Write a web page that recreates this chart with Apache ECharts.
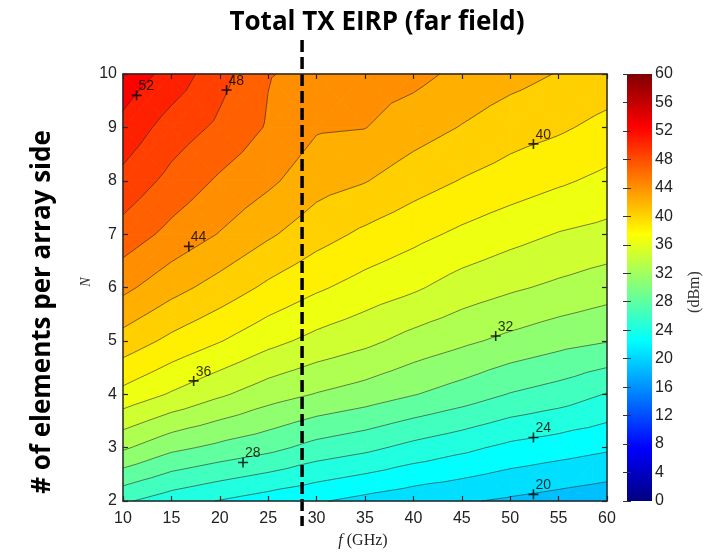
<!DOCTYPE html>
<html>
<head>
<meta charset="utf-8">
<script src="https://cdn.jsdelivr.net/npm/echarts@6/dist/echarts.min.js"></script>
<style>
html,body{margin:0;padding:0;background:#fff;}
#chart{width:708px;height:552px;}
</style>
</head>
<body>
<div id="chart"></div>
<script>
// ---- data ----
const freqGHz = [10, 15, 20, 25, 30, 35, 40, 45, 50, 55, 60];
const elemsN = [2, 3, 4, 5, 6, 7, 8, 9, 10];
// EIRP (dBm), one row per N (2..10), one column per frequency
const eirpN2  = [26.3, 24.9, 23.9, 23.0, 22.2, 21.4, 20.7, 20.2, 19.7, 19.2, 18.7];
const eirpN3  = [32.3, 30.5, 29.5, 28.6, 27.3, 26.5, 25.4, 24.5, 23.5, 22.9, 22.3];
const eirpN4  = [37.4, 35.8, 34.3, 32.9, 31.9, 31.1, 30.1, 29.1, 27.9, 27.1, 25.9];
const eirpN5  = [41.2, 39.5, 38.1, 36.6, 35.4, 34.5, 33.3, 32.4, 31.5, 30.7, 30.1];
const eirpN6  = [44.5, 42.7, 41.2, 39.6, 38.3, 37.2, 36.3, 35.1, 34.3, 33.6, 32.9];
const eirpN7  = [47.2, 45.4, 43.9, 42.3, 40.8, 39.6, 38.6, 37.6, 36.7, 35.9, 35.4];
const eirpN8  = [49.4, 47.4, 45.7, 44.4, 42.8, 42.1, 40.9, 39.9, 39.1, 38.3, 37.5];
const eirpN9  = [51.4, 49.1, 47.6, 45.8, 44.2, 44.05, 42.9, 41.9, 40.9, 40.3, 39.4];
const eirpN10 = [53.3, 51.3, 48.7, 46.1, 45.5, 44.9, 44.6, 43.5, 42.7, 41.9, 41.2];
const eirpRows = [eirpN2, eirpN3, eirpN4, eirpN5, eirpN6, eirpN7, eirpN8, eirpN9, eirpN10];

const levelStep = 2;            // contour spacing (dBm)
const colorRange = [0, 60];     // colour axis (dBm)
const colorTicks = 4;
const labelF = [11.4, 20.7, 16.8, 52.4, 17.3, 48.5, 22.4, 52.4, 52.4];
const labelN = [9.6, 9.7, 6.77, 8.69, 4.25, 5.09, 2.72, 3.19, 2.125];
const labelText = ['52', '48', '44', '40', '36', '32', '28', '24', '20'];
const dashF = 28.5;             // vertical dashed marker (GHz)

// ---- helpers ----
function jet(t) {
  const c = x => Math.max(0, Math.min(1, x));
  const r = c(1.5 - Math.abs(4 * t - 3)), g = c(1.5 - Math.abs(4 * t - 2)), b = c(1.5 - Math.abs(4 * t - 1));
  return 'rgb(' + Math.round(r * 255) + ',' + Math.round(g * 255) + ',' + Math.round(b * 255) + ')';
}
// MATLAB-style 64-entry jet colormap (discrete), used for the filled bands
function jet64(t) {
  let e = Math.floor(t * 64) + 1;
  e = Math.max(1, Math.min(64, e));
  const u = k => (k < 1 || k > 47) ? 0 : (k <= 16 ? k / 16 : (k <= 31 ? 1 : (48 - k) / 16));
  const r = u(e - 24), g = u(e - 8), b = u(e + 8);
  return 'rgb(' + Math.round(r * 255) + ',' + Math.round(g * 255) + ',' + Math.round(b * 255) + ')';
}
const jetStops = [0, 0.125, 0.25, 0.375, 0.5, 0.625, 0.75, 0.875, 1].map(t => ({offset: t, color: jet(t)}));

function clipPoly(poly, lvl, keepAbove) {
  const out = [];
  const n = poly.length;
  for (let i = 0; i < n; i++) {
    const a = poly[i], b = poly[(i + 1) % n];
    const ain = keepAbove ? a[2] >= lvl : a[2] < lvl;
    const bin = keepAbove ? b[2] >= lvl : b[2] < lvl;
    if (ain) out.push(a);
    if (ain !== bin) {
      const t = (lvl - a[2]) / (b[2] - a[2]);
      out.push([a[0] + t * (b[0] - a[0]), a[1] + t * (b[1] - a[1]), lvl]);
    }
  }
  return out;
}

function renderField(params, api) {
  const fills = [];
  let path = '';
  for (let j = 0; j < elemsN.length - 1; j++) {
    for (let i = 0; i < freqGHz.length - 1; i++) {
      const A = [freqGHz[i], elemsN[j], eirpRows[j][i]];
      const B = [freqGHz[i + 1], elemsN[j], eirpRows[j][i + 1]];
      const C = [freqGHz[i + 1], elemsN[j + 1], eirpRows[j + 1][i + 1]];
      const D = [freqGHz[i], elemsN[j + 1], eirpRows[j + 1][i]];
      const E = [(A[0] + B[0]) / 2, (A[1] + D[1]) / 2, (A[2] + B[2] + C[2] + D[2]) / 4];
      const tris = [[A, B, E], [B, C, E], [C, D, E], [D, A, E]];
      for (const tri of tris) {
        const vs = tri.map(p => p[2]);
        const mn = Math.min.apply(null, vs), mx = Math.max.apply(null, vs);
        for (let L = Math.floor(mn / levelStep) * levelStep; L <= mx; L += levelStep) {
          let poly = clipPoly(tri, L, true);
          if (poly.length < 3) continue;
          poly = clipPoly(poly, L + levelStep, false);
          if (poly.length < 3) continue;
          const col = jet64((L - colorRange[0]) / (colorRange[1] - colorRange[0]));
          fills.push({
            type: 'polygon',
            shape: {points: poly.map(p => api.coord([p[0], p[1]]))},
            style: {fill: col, stroke: col, lineWidth: 0.8}
          });
        }
        for (let L = Math.ceil(mn / levelStep) * levelStep; L <= mx; L += levelStep) {
          const pts = [];
          for (let k = 0; k < 3; k++) {
            const a = tri[k], b = tri[(k + 1) % 3];
            if ((a[2] >= L) !== (b[2] >= L)) {
              const t = (L - a[2]) / (b[2] - a[2]);
              pts.push(api.coord([a[0] + t * (b[0] - a[0]), a[1] + t * (b[1] - a[1])]));
            }
          }
          if (pts.length === 2) {
            path += 'M' + pts[0][0].toFixed(2) + ' ' + pts[0][1].toFixed(2) + 'L' + pts[1][0].toFixed(2) + ' ' + pts[1][1].toFixed(2);
          }
        }
      }
    }
  }
  fills.push({
    type: 'path',
    shape: {pathData: path},
    style: {fill: null, stroke: 'rgba(40,40,40,0.75)', lineWidth: 0.8}
  });
  return {type: 'group', children: fills};
}

function renderDash(params, api) {
  const top = api.coord([api.value(0), elemsN[elemsN.length - 1]]);
  const bot = api.coord([api.value(0), elemsN[0]]);
  return {
    type: 'line',
    shape: {x1: top[0], y1: top[1] - 34, x2: bot[0], y2: bot[1] + 25},
    style: {stroke: '#000', lineWidth: 3.5, lineDash: [12, 5]},
    z2: 10
  };
}

function renderColorbar(params, api) {
  const p0 = api.coord([0, api.value(0)]);
  const p1 = api.coord([1, api.value(1)]);
  return {
    type: 'rect',
    shape: {x: p0[0], y: p1[1], width: p1[0] - p0[0], height: p0[1] - p1[1]},
    style: {fill: new echarts.graphic.LinearGradient(0, 1, 0, 0, jetStops)}
  };
}

const axisCol = '#262626';
const tickFont = {color: '#222', fontSize: 16, fontFamily: 'Liberation Sans, Arial, sans-serif'};

const chart = echarts.init(document.getElementById('chart'), null, {renderer: 'canvas'});
chart.setOption({
  animation: false,
  backgroundColor: '#fff',
  grid: [
    {left: 123, top: 74, width: 484, height: 427},
    {left: 627, top: 74, width: 25, height: 427}
  ],
  xAxis: [
    {gridIndex: 0, type: 'value', min: 10, max: 60, interval: 5, position: 'bottom', z: 5,
     axisLine: {onZero: false, lineStyle: {color: axisCol, width: 1.5}},
     axisTick: {inside: true, length: 5, lineStyle: {color: axisCol, width: 1.2}},
     axisLabel: Object.assign({margin: 10}, tickFont), splitLine: {show: false}},
    {gridIndex: 0, type: 'value', min: 10, max: 60, interval: 5, position: 'top', z: 5,
     axisLine: {onZero: false, lineStyle: {color: axisCol, width: 1.5}},
     axisTick: {inside: true, length: 5, lineStyle: {color: axisCol, width: 1.2}},
     axisLabel: {show: false}, splitLine: {show: false}},
    {gridIndex: 1, type: 'value', min: 0, max: 1, show: false}
  ],
  yAxis: [
    {gridIndex: 0, type: 'value', min: 2, max: 10, interval: 1, position: 'left', z: 5,
     axisLine: {show: true, onZero: false, lineStyle: {color: axisCol, width: 1.5}},
     axisTick: {show: true, inside: true, length: 5, lineStyle: {color: axisCol, width: 1.2}},
     axisLabel: Object.assign({margin: 6}, tickFont), splitLine: {show: false}},
    {gridIndex: 0, type: 'value', min: 2, max: 10, interval: 1, position: 'right', z: 5,
     axisLine: {show: true, onZero: false, lineStyle: {color: axisCol, width: 1.5}},
     axisTick: {show: true, inside: true, length: 5, lineStyle: {color: axisCol, width: 1.2}},
     axisLabel: {show: false}, splitLine: {show: false}},
    {gridIndex: 1, type: 'value', min: colorRange[0], max: colorRange[1], interval: colorTicks, position: 'right', z: 5,
     axisLine: {show: false},
     axisTick: {show: true, inside: true, length: 4, lineStyle: {color: '#333', width: 1}},
     axisLabel: Object.assign({margin: 3}, tickFont), splitLine: {show: false}},
    {gridIndex: 1, type: 'value', min: colorRange[0], max: colorRange[1], interval: colorTicks, position: 'left', z: 5,
     axisLine: {show: false},
     axisTick: {show: true, inside: true, length: 4, lineStyle: {color: '#333', width: 1}},
     axisLabel: {show: false}, splitLine: {show: false}}
  ],
  series: [
    {type: 'custom', xAxisIndex: 0, yAxisIndex: 0, coordinateSystem: 'cartesian2d',
     renderItem: renderField, data: [[freqGHz[0], elemsN[0]]], silent: true, z: 1},
    {type: 'custom', xAxisIndex: 0, yAxisIndex: 0, coordinateSystem: 'cartesian2d',
     renderItem: renderDash, data: [[dashF, elemsN[0]]], silent: true, z: 4, clip: false},
    {type: 'scatter', xAxisIndex: 0, yAxisIndex: 0, z: 3, silent: true,
     symbol: 'path://M4.2,0H5.8V4.2H10V5.8H5.8V10H4.2V5.8H0V4.2H4.2Z', symbolSize: 10,
     itemStyle: {color: '#000'},
     label: {show: true, position: [7, -11], color: '#000', fontSize: 14,
             fontFamily: 'Liberation Sans, Arial, sans-serif', formatter: p => p.value[2]},
     data: labelF.map((f, i) => [f, labelN[i], labelText[i]])},
    {type: 'custom', xAxisIndex: 2, yAxisIndex: 2, coordinateSystem: 'cartesian2d',
     renderItem: renderColorbar, data: [colorRange], silent: true, z: 1}
  ],
  graphic: [
    {type: 'text', x: 377, y: 23, style: {text: 'Total TX EIRP (far field)', fontFamily: 'Open Sans', fontWeight: 'bold', fontSize: 26, fill: '#000', align: 'center', verticalAlign: 'middle'}},
    {type: 'text', x: 43, y: 312, rotation: Math.PI / 2, style: {text: '# of elements per array side', fontFamily: 'Open Sans', fontWeight: 'bold', fontSize: 26, fill: '#000', align: 'center', verticalAlign: 'middle'}},
    {type: 'text', x: 86, y: 282, rotation: Math.PI / 2, style: {text: 'N', fontFamily: 'Liberation Serif', fontStyle: 'italic', fontSize: 14, fill: '#333', align: 'center', verticalAlign: 'middle'}},
    {type: 'text', x: 363, y: 541, style: {text: '{i|f} (GHz)', rich: {i: {fontStyle: 'italic', fontFamily: 'Liberation Serif', fontSize: 16, fill: '#222'}}, fontFamily: 'Liberation Serif', fontSize: 16, fill: '#222', align: 'center', verticalAlign: 'middle'}},
    {type: 'text', x: 695, y: 292, rotation: Math.PI / 2, style: {text: '(dBm)', fontFamily: 'Liberation Serif', fontSize: 16, fill: '#333', align: 'center', verticalAlign: 'middle'}}
  ]
});
</script>
</body>
</html>
